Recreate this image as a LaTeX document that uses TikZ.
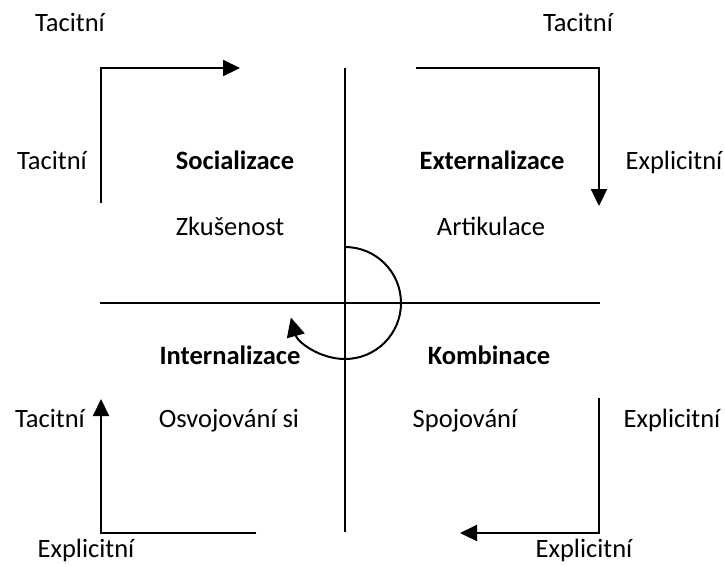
\documentclass[tikz,border=0pt]{standalone}
\usepackage{fontspec}
\setmainfont{Carlito}
\usetikzlibrary{arrows.meta}

\tikzset{
  lbl/.style={font=\fontsize{26.5}{30}\selectfont, inner sep=0pt, anchor=base},
  mode/.style={lbl, font=\fontsize{26.5}{30}\selectfont\bfseries},
  axis/.style={line width=1.7pt},
  flow/.style={line width=2.2pt, -{Triangle[length=17pt,width=16pt]}},
}

\begin{document}
\begin{tikzpicture}[x=1pt, y=-1pt]
  \useasboundingbox (0,0) rectangle (725,566);

  % quadrant axes
  \coordinate (vtop) at (345,68);
  \coordinate (vbot) at (345,532);
  \coordinate (hleft) at (100,303);
  \coordinate (hright) at (600,303);
  \draw[axis] (vtop) -- (vbot);
  \draw[axis] (hleft) -- (hright);

  % spiral of knowledge conversion
  \coordinate (ctr) at (345,303);
  \draw[line width=2pt, -{Triangle[length=19pt,width=18pt]}]
    (345,247) arc[start angle=-90, end angle=165, radius=56];

  % corner flows
  \coordinate (sa) at (101,203);
  \coordinate (sb) at (101,68);
  \coordinate (sc) at (240,68);
  \draw[flow] (sa) -- (sb) -- (sc);

  \coordinate (ea) at (416,68);
  \coordinate (eb) at (599,68);
  \coordinate (ec) at (599,206);
  \draw[flow] (ea) -- (eb) -- (ec);

  \coordinate (ka) at (599,398);
  \coordinate (kb) at (599,533);
  \coordinate (kc) at (460,533);
  \draw[flow] (ka) -- (kb) -- (kc);

  \coordinate (ia) at (256,533);
  \coordinate (ib) at (101,533);
  \coordinate (ic) at (101,399);
  \draw[flow] (ia) -- (ib) -- (ic);

  % outer labels (positioned at baseline)
  \node[lbl] (t1) at (70,31) {Tacitní};
  \node[lbl] (t2) at (578,31) {Tacitní};
  \node[lbl] (t3) at (52,169) {Tacitní};
  \node[lbl] (x1) at (674,169) {Explicitní};
  \node[lbl] (t4) at (50,427) {Tacitní};
  \node[lbl] (x2) at (672,427) {Explicitní};
  \node[lbl] (x3) at (86,557) {Explicitní};
  \node[lbl] (x4) at (584,557) {Explicitní};

  % quadrant titles
  \node[mode] (soc) at (235,169) {Socializace};
  \node[mode] (ext) at (492,169) {Externalizace};
  \node[mode] (int) at (230,364) {Internalizace};
  \node[mode] (kom) at (489,364) {Kombinace};

  % quadrant descriptions
  \node[lbl] (zk) at (230,235) {Zkušenost};
  \node[lbl] (ar) at (491,235) {Artikulace};
  \node[lbl] (os) at (229,427) {Osvojování si};
  \node[lbl] (sp) at (465,427) {Spojování};
\end{tikzpicture}
\end{document}
